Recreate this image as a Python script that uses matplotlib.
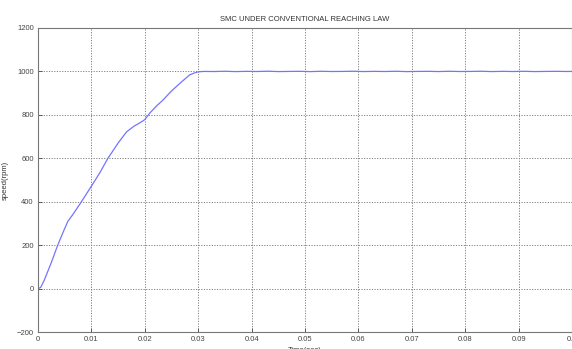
import matplotlib
matplotlib.use("Agg")
import matplotlib.pyplot as plt

plt.rcParams['font.family'] = ['Liberation Sans', 'DejaVu Sans']

# speed response samples (time in s, speed in rpm)
t = [0.0, 0.0005, 0.0012, 0.0025, 0.0037, 0.0048, 0.0056, 0.0065, 0.0080,
     0.0097, 0.0115, 0.0131, 0.0150, 0.0166, 0.0180, 0.0192, 0.0200, 0.0210,
     0.0222, 0.0234, 0.0250, 0.0268, 0.0284, 0.0293, 0.0300, 0.0310,
     0.0330, 0.0350, 0.0370, 0.0390, 0.0410, 0.0430, 0.0450, 0.0470,
     0.0490, 0.0510, 0.0530, 0.0550, 0.0570, 0.0590, 0.0610, 0.0630,
     0.0650, 0.0670, 0.0690, 0.0710, 0.0730, 0.0750, 0.0770, 0.0790,
     0.0810, 0.0830, 0.0850, 0.0870, 0.0890, 0.0910, 0.0930, 0.0950,
     0.0970, 0.0990, 0.1000]
speed = [0, 5, 40, 120, 200, 265, 310, 340, 395,
         460, 530, 600, 670, 722, 748, 765, 778, 810,
         841, 868, 910, 950, 984, 993, 998, 1000,
         999.5, 1000.8, 999.2, 1000.4, 999.6, 1001, 999.3, 1000,
         1000.5, 999.1, 1000.7, 999.6, 1000, 1000.9, 999.4, 1000.3,
         999.6, 1000.8, 999.2, 1000, 1000.4, 999.4, 1000.7, 999.6,
         1000, 1000.9, 999.3, 1000.4, 999.6, 1000.7, 999.3, 1000,
         1000.4, 999.7, 1000]

fig = plt.figure(figsize=(5.72, 3.49), dpi=100)
ax = fig.add_axes([0.0664, 0.0487, 0.9336, 0.8711])
ax.plot(t, speed, color='#7474ff', linewidth=0.9)

ax.set_xlim(0, 0.1)
ax.set_ylim(-200, 1200)
ax.set_xticks([0, 0.01, 0.02, 0.03, 0.04, 0.05, 0.06, 0.07, 0.08, 0.09, 0.1])
ax.set_xticklabels(['0', '0.01', '0.02', '0.03', '0.04', '0.05', '0.06',
                    '0.07', '0.08', '0.09', '0.1'])
ax.set_yticks(range(-200, 1201, 200))
ax.grid(True, linestyle=(0, (1.2, 1.5)), color='#808080', linewidth=0.7)
ax.tick_params(labelsize=5.5, colors='#444444', length=3, width=0.6,
               direction='in', pad=3)
for s in ax.spines.values():
    s.set_color('#777777')
    s.set_linewidth(0.8)

ax.set_title('SMC UNDER CONVENTIONAL REACHING LAW', fontsize=5.5,
             color='#333333', pad=5)
ax.set_ylabel('speed(rpm)', fontsize=5.5, color='#333333', labelpad=6)
ax.set_xlabel('Time(sec)', fontsize=5.5, color='#333333', labelpad=2.5)

fig.savefig('out.png', dpi=100)
